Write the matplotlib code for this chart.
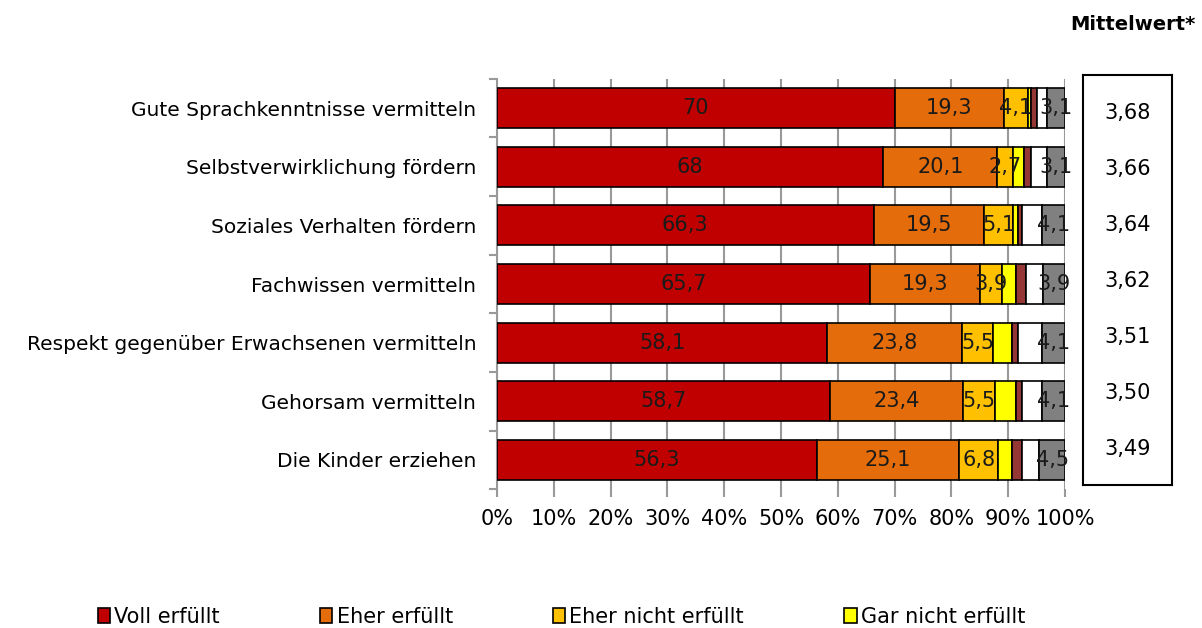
import matplotlib.pyplot as plt
import numpy as np

# Data
items = ['Gute Sprachkenntnisse vermitteln', 'Selbstverwirklichung fördern',
         'Soziales Verhalten fördern', 'Fachwissen vermitteln',
         'Respekt gegenüber Erwachsenen vermitteln', 'Gehorsam vermitteln',
         'Die Kinder erziehen']
voll = [70, 68, 66.3, 65.7, 58.1, 58.7, 56.3]
eher = [19.3, 20.1, 19.5, 19.3, 23.8, 23.4, 25.1]
eher_nicht = [4.1, 2.7, 5.1, 3.9, 5.5, 5.5, 6.8]
gar_nicht = [0.6, 2.0, 0.9, 2.4, 3.2, 3.7, 2.5]
brown_part = [1.0, 1.2, 0.7, 1.8, 1.2, 1.2, 1.8]
white_part = [1.9, 2.9, 3.4, 3.0, 4.1, 3.4, 3.0]
grey_part = [3.1, 3.1, 4.1, 3.9, 4.1, 4.1, 4.5]
mittelwert = ['3,68', '3,66', '3,64', '3,62', '3,51', '3,50', '3,49']

series = [voll, eher, eher_nicht, gar_nicht, brown_part, white_part, grey_part]
colors = ['#C00000', '#E46C0A', '#FFC000', '#FFFF00', '#953735', '#FFFFFF', '#808080']
names = ['Voll erfüllt', 'Eher erfüllt', 'Eher nicht erfüllt', 'Gar nicht erfüllt', None, None, None]
show_labels = [True, True, True, False, False, False, True]

plt.rcParams['font.family'] = ['DejaVu Sans']

fig = plt.figure(figsize=(12.02, 6.28), dpi=100)
ax = fig.add_axes([497 / 1202, 1 - 489.3 / 628, 568 / 1202, 410.6 / 628])

y = np.arange(len(items))
left = np.zeros(len(items))
for vals, col, name, lab in zip(series, colors, names, show_labels):
    vals = np.array(vals)
    ax.barh(y, vals, left=left, height=0.68, color=col, edgecolor='black',
            linewidth=1.2, label=name if name else '_nolegend_', zorder=3)
    if lab:
        for xi, yi, v in zip(left, y, vals):
            ax.text(xi + v / 2, yi, f'{v:g}'.replace('.', ','), ha='center', va='center',
                    fontsize=15, color='#1a1a1a', zorder=4)
    left += vals

ax.set_xlim(0, 100)
ax.set_ylim(len(items) - 0.5, -0.5)
ax.set_xticks(np.arange(0, 101, 10))
ax.set_xticklabels([f'{t}%' for t in range(0, 101, 10)], fontsize=15)
ax.set_yticks(y)
ax.set_yticklabels(items, fontsize=14.5)
ax.set_yticks(np.arange(-0.5, len(items), 1), minor=True)
ax.tick_params(axis='y', which='major', length=0, pad=15)
ax.tick_params(axis='y', which='minor', length=6, color='#999999', width=1.5)
ax.tick_params(axis='x', length=6, color='#999999', width=1.5, pad=8)
ax.grid(axis='x', color='#999999', linewidth=1.5, zorder=0)
for s in ['top', 'right', 'bottom']:
    ax.spines[s].set_visible(False)
ax.spines['left'].set_color('#999999')
ax.spines['left'].set_linewidth(1.5)

# Mittelwert box (own row spacing, slightly tighter than the bars)
box = fig.add_axes([1083 / 1202, 1 - 485 / 628, 89 / 1202, 410 / 628])
box.set_xlim(0, 1)
box.set_ylim(6.64, -0.68)
box.set_xticks([])
box.set_yticks([])
for s in box.spines.values():
    s.set_linewidth(1.5)
for yi, m in zip(y, mittelwert):
    box.text(0.5, yi, m, ha='center', va='center', fontsize=15)
fig.text(1196 / 1202, 1 - 24 / 628, 'Mittelwert*', ha='right', va='center',
         fontsize=14, fontweight='bold')

handles, labels = ax.get_legend_handles_labels()
fig.legend(handles, labels, loc='center', bbox_to_anchor=(0.467, 1 - 617 / 628), ncol=4,
           frameon=False, fontsize=15, handlelength=0.6, handleheight=0.7,
           handletextpad=0.2, columnspacing=4.8)

fig.savefig('out.png', dpi=100)
